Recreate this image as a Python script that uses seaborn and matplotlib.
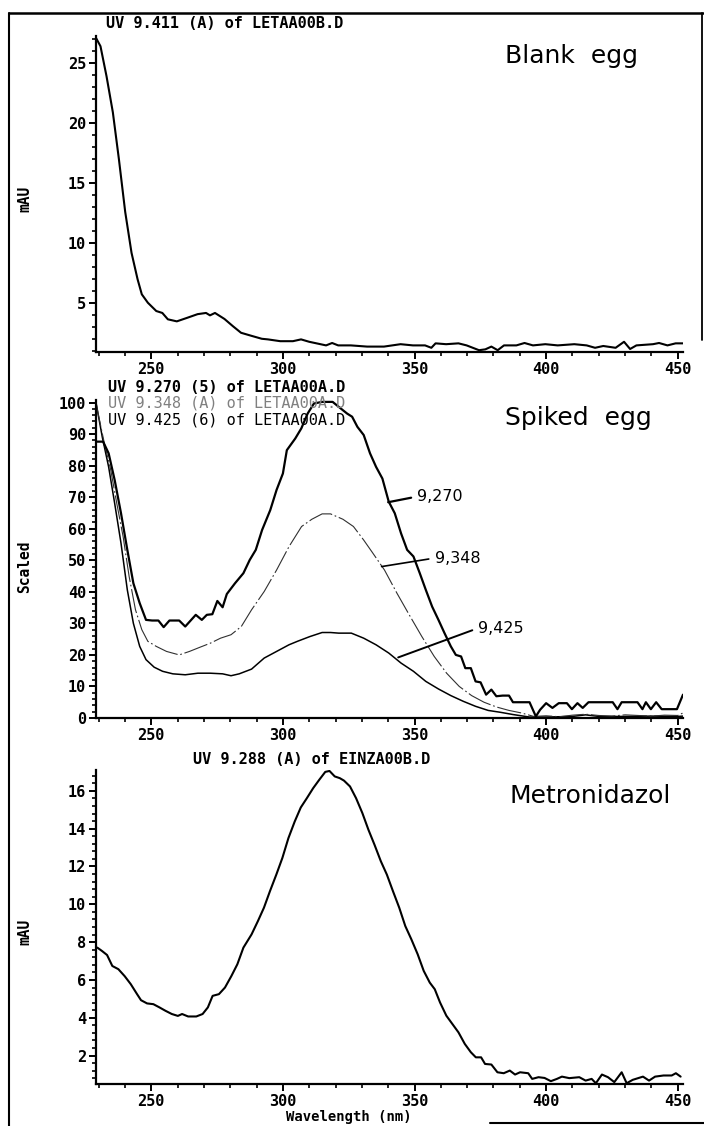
import matplotlib
matplotlib.use("Agg")
import matplotlib.pyplot as plt
from matplotlib.ticker import MultipleLocator, FormatStrFormatter
from matplotlib.lines import Line2D
import pandas as pd
import seaborn as sns

# ---------------- spectra ----------------
# Blank egg, UV 9.411 (mAU)
blank_wl = [229.1, 230.7, 233.0, 235.4, 237.7, 240.1, 242.5, 244.8, 246.4, 248.7,
            251.9, 254.2, 256.3, 259.7, 263.7, 267.6, 270.8, 272.3, 274.2, 277.8,
            281.0, 284.1, 288.0, 292.0, 294.3, 299.0, 303.8, 306.9, 310.0, 316.4,
            318.7, 321.0, 325.8, 332.0, 338.4, 344.7, 349.4, 354.0, 356.4, 358.0,
            362.0, 366.7, 369.8, 374.5, 376.9, 379.2, 381.6, 384.0, 388.7, 391.8,
            395.0, 399.7, 404.4, 410.7, 415.4, 418.6, 421.7, 426.4, 429.6, 431.9,
            434.3, 440.6, 442.9, 446.1, 449.2, 452.0]
blank_mau = [27.05, 26.4, 23.9, 20.9, 17.0, 12.6, 9.2, 7.0, 5.75, 5.05,
             4.36, 4.2, 3.67, 3.5, 3.8, 4.1, 4.2, 4.0, 4.2, 3.7,
             3.1, 2.55, 2.3, 2.05, 2.0, 1.85, 1.85, 2.0, 1.8, 1.5,
             1.7, 1.5, 1.5, 1.4, 1.4, 1.6, 1.5, 1.5, 1.3, 1.67,
             1.6, 1.67, 1.5, 1.1, 1.17, 1.4, 1.1, 1.5, 1.5, 1.7,
             1.5, 1.6, 1.5, 1.6, 1.5, 1.3, 1.45, 1.3, 1.8, 1.2,
             1.5, 1.6, 1.7, 1.5, 1.67, 1.67]

# Spiked egg, scaled spectra at 9.270, 9.348 and 9.425 min
s9270_wl = [229.0, 231.7, 233.8, 236.1, 238.5, 240.9, 243.2, 245.6, 248.0, 250.3,
            252.7, 254.7, 256.9, 260.6, 262.9, 266.9, 269.2, 271.1, 273.2, 275.1,
            277.1, 278.7, 281.8, 285.0, 287.4, 289.7, 292.1, 295.2, 297.6, 300.0,
            301.5, 304.7, 307.0, 309.4, 311.8, 314.9, 318.9, 322.0, 324.4, 326.3,
            328.3, 330.7, 333.1, 335.4, 337.8, 340.2, 342.5, 344.9, 347.2, 349.6,
            352.0, 354.3, 356.7, 359.1, 361.4, 363.8, 365.7, 367.7, 369.3, 371.4,
            373.2, 375.1, 377.2, 379.2, 381.1, 383.5, 385.9, 387.4, 393.7, 396.1,
            397.7, 400.0, 402.4, 404.8, 407.9, 409.8, 411.9, 413.9, 416.1, 425.3,
            427.1, 428.7, 434.7, 436.6, 437.9, 439.8, 441.8, 443.9, 449.7, 452.0]
s9270_val = [87.6, 87.6, 83.9, 75.4, 64.9, 53.3, 42.7, 36.4, 31.1, 30.9,
             30.9, 28.8, 30.9, 30.9, 29.0, 32.7, 31.1, 32.7, 32.9, 37.1,
             35.1, 39.3, 42.7, 45.9, 50.1, 53.3, 59.6, 65.9, 72.3, 77.5,
             84.9, 88.6, 91.8, 96.5, 99.7, 100.2, 100.2, 98.1, 96.5, 95.5,
             92.3, 89.7, 83.9, 79.6, 75.9, 68.6, 64.9, 58.5, 53.3, 51.2,
             45.9, 40.6, 35.3, 31.1, 26.9, 22.7, 20.0, 19.5, 15.8, 15.8,
             11.6, 11.3, 7.4, 9.0, 6.9, 7.1, 7.1, 5.0, 5.0, 0.5,
             2.6, 4.7, 3.2, 4.7, 4.7, 2.8, 4.7, 3.2, 5.0, 5.0,
             2.8, 5.0, 5.0, 2.8, 5.0, 2.8, 5.0, 2.8, 2.8, 7.4]

s9348_wl = [229.0, 229.8, 232.2, 234.6, 236.9, 239.3, 241.6, 244.0, 246.4, 248.7,
            251.9, 255.8, 260.6, 264.5, 268.4, 272.4, 276.3, 280.3, 284.2, 288.1,
            292.9, 297.6, 302.3, 307.1, 311.0, 314.9, 318.1, 322.8, 326.8, 330.7,
            333.8, 338.6, 343.3, 348.0, 352.8, 357.5, 362.2, 367.0, 371.7, 376.4,
            381.1, 385.9, 390.6, 395.3, 400.0, 405.0, 410.0, 415.0, 420.0, 425.0,
            430.0, 435.0, 440.0, 445.0, 450.0, 452.0]
s9348_val = [100.0, 96.5, 87.0, 78.6, 68.0, 57.5, 44.8, 34.3, 28.0, 24.3,
             22.7, 21.1, 20.0, 21.1, 22.4, 23.7, 25.3, 26.4, 29.0, 34.3,
             40.1, 46.9, 54.3, 60.7, 63.0, 64.7, 64.7, 63.0, 60.7, 56.4,
             52.7, 46.9, 39.6, 32.7, 25.8, 19.5, 14.2, 10.0, 7.1, 5.0,
             3.5, 2.4, 1.6, 0.5, 0.7, 0.4, 0.9, 1.2, 0.8, 0.6,
             1.0, 0.8, 0.6, 0.9, 0.8, 1.6]

s9425_wl = [229.0, 231.4, 233.8, 236.1, 238.5, 240.9, 243.2, 245.6, 248.0, 251.1,
            254.3, 258.2, 262.9, 267.7, 272.4, 277.1, 280.3, 283.4, 288.1, 292.9,
            297.6, 302.3, 305.5, 310.2, 314.9, 318.1, 321.2, 326.0, 330.7, 335.4,
            340.2, 344.9, 349.6, 354.3, 359.1, 363.8, 368.5, 373.2, 378.0, 382.7,
            387.4, 393.7, 400.0, 405.0, 410.0, 415.0, 420.0, 430.0, 440.0, 450.0,
            452.0]
s9425_val = [100.0, 89.0, 79.6, 68.0, 55.4, 40.6, 30.0, 22.7, 18.5, 16.1,
             14.8, 14.0, 13.7, 14.2, 14.2, 14.0, 13.4, 14.0, 15.5, 19.0,
             21.1, 23.2, 24.3, 25.8, 27.1, 27.1, 26.9, 26.9, 25.3, 23.2,
             20.6, 17.4, 14.8, 11.6, 9.2, 7.1, 5.3, 3.7, 2.4, 1.8,
             1.1, 0.3, 0.3, 0.4, 0.5, 1.0, 0.5, 0.5, 0.6, 0.5,
             0.6]

# Metronidazol standard, UV 9.288 (mAU)
metro_wl = [229.5, 231.3, 233.2, 235.2, 237.5, 239.9, 242.2, 244.6, 246.1, 248.4,
            250.8, 253.1, 255.4, 257.8, 260.1, 261.7, 264.0, 267.1, 269.5, 271.5,
            273.3, 275.7, 278.0, 280.4, 282.7, 285.0, 288.1, 290.5, 292.8, 295.1,
            297.5, 299.8, 302.1, 304.5, 306.8, 309.1, 311.5, 313.8, 316.1, 317.7,
            319.7, 321.6, 323.2, 325.5, 327.8, 330.2, 332.5, 334.8, 337.2, 339.5,
            341.8, 344.2, 346.5, 348.8, 351.2, 353.5, 355.8, 357.7, 359.7, 362.1,
            364.4, 366.7, 369.1, 371.4, 373.3, 375.3, 376.8, 379.2, 381.5, 383.9,
            386.2, 388.2, 390.1, 393.2, 394.7, 397.1, 399.4, 401.8, 404.1, 406.0,
            408.8, 412.6, 415.0, 417.3, 418.9, 421.2, 423.5, 425.9, 428.7, 430.6,
            432.9, 436.8, 439.1, 441.4, 444.6, 447.7, 449.3, 451.1]
metro_mau = [7.71, 7.53, 7.32, 6.74, 6.57, 6.20, 5.78, 5.25, 4.93, 4.76,
             4.72, 4.55, 4.37, 4.20, 4.10, 4.20, 4.07, 4.07, 4.20, 4.55,
             5.16, 5.25, 5.60, 6.20, 6.83, 7.71, 8.41, 9.11, 9.82, 10.70,
             11.57, 12.45, 13.50, 14.38, 15.12, 15.61, 16.14, 16.58, 17.00, 17.05,
             16.76, 16.67, 16.54, 16.23, 15.61, 14.82, 13.94, 13.15, 12.28, 11.57,
             10.70, 9.82, 8.85, 8.15, 7.36, 6.48, 5.86, 5.51, 4.81, 4.11,
             3.67, 3.23, 2.62, 2.18, 1.91, 1.91, 1.56, 1.53, 1.12, 1.07,
             1.21, 1.00, 1.12, 1.07, 0.77, 0.86, 0.82, 0.65, 0.77, 0.89,
             0.81, 0.86, 0.68, 0.77, 0.54, 1.00, 0.86, 0.60, 1.12, 0.54,
             0.72, 0.89, 0.68, 0.89, 0.95, 0.95, 1.07, 0.89]

x_ticks = [250, 300, 350, 400, 450]

# ---------------- figure ----------------
W, H = 704, 1126
sns.set_style("ticks")
plt.rcParams["font.family"] = ["DejaVu Sans Mono", "DejaVu Sans"]
plt.rcParams["font.weight"] = "bold"
plt.rcParams["axes.labelweight"] = "bold"
plt.rcParams["text.color"] = "black"
plt.rcParams["axes.labelcolor"] = "black"
plt.rcParams["xtick.color"] = "black"
plt.rcParams["ytick.color"] = "black"

fig = plt.figure(figsize=(W / 100, H / 100), dpi=100, facecolor="white")
LIGHT = dict(family="DejaVu Sans", weight="normal")


def box(top, bottom, left=96, right=683):
    return [left / W, 1 - bottom / H, (right - left) / W, (bottom - top) / H]


def px(x, y):
    return x / W, 1 - y / H


def style(ax, ylim, ymajor, yminor):
    ax.set_xlim(229, 452)
    ax.set_ylim(*ylim)
    ax.xaxis.set_major_locator(MultipleLocator(50))
    ax.xaxis.set_minor_locator(MultipleLocator(10))
    ax.yaxis.set_major_locator(MultipleLocator(ymajor))
    ax.yaxis.set_minor_locator(MultipleLocator(yminor))
    ax.xaxis.set_major_formatter(FormatStrFormatter("%d"))
    ax.yaxis.set_major_formatter(FormatStrFormatter("%d"))
    for s in ("top", "right"):
        ax.spines[s].set_visible(False)
    for s in ("left", "bottom"):
        ax.spines[s].set_linewidth(1.6)
        ax.spines[s].set_color("black")
    ax.tick_params(which="major", length=5, width=1.4, direction="out",
                   pad=2, labelsize=11, colors="black")
    ax.tick_params(which="minor", length=3, width=1.2, direction="out",
                   colors="black")
    ax.set_xlabel("")
    ax.set_ylabel("")
    ax.grid(False)
    ax.set_facecolor("white")


ax_top = fig.add_axes(box(36, 352))
ax_mid = fig.add_axes(box(400, 718))
ax_bot = fig.add_axes(box(770, 1084))

# --- Blank egg ---
df_blank = pd.DataFrame({"Wavelength": blank_wl, "mAU": blank_mau})
sns.lineplot(data=df_blank, x="Wavelength", y="mAU", ax=ax_top, color="black",
             linewidth=1.5, estimator=None, sort=False)
style(ax_top, (0.95, 27.25), 5, 1)

# --- Spiked egg ---
df_270 = pd.DataFrame({"Wavelength": s9270_wl, "Scaled": s9270_val})
df_348 = pd.DataFrame({"Wavelength": s9348_wl, "Scaled": s9348_val})
df_425 = pd.DataFrame({"Wavelength": s9425_wl, "Scaled": s9425_val})
sns.lineplot(data=df_425, x="Wavelength", y="Scaled", ax=ax_mid, color="black",
             linewidth=1.1, estimator=None, sort=False)
sns.lineplot(data=df_348, x="Wavelength", y="Scaled", ax=ax_mid, color="#303030",
             linewidth=0.8, estimator=None, sort=False)
ax_mid.lines[-1].set_dashes([22, 2.5, 1.5, 2.5])
sns.lineplot(data=df_270, x="Wavelength", y="Scaled", ax=ax_mid, color="black",
             linewidth=1.6, estimator=None, sort=False)
style(ax_mid, (0, 100.8), 10, 2)

for txt, xy, xyt, lw in [("9,270", (340.0, 68.4), (351.0, 70.2), 1.6),
                         ("9,348", (337.5, 48.0), (357.7, 50.7), 1.2),
                         ("9,425", (343.8, 19.2), (374.2, 28.5), 1.4)]:
    ax_mid.annotate(txt, xy=xy, xytext=xyt, textcoords="data", ha="left",
                    va="center", fontsize=11.5, color="black", **LIGHT,
                    arrowprops=dict(arrowstyle="-", lw=lw, color="black",
                                    shrinkA=2, shrinkB=0, relpos=(0, 0.5)))

# --- Metronidazol ---
df_metro = pd.DataFrame({"Wavelength": metro_wl, "mAU": metro_mau})
sns.lineplot(data=df_metro, x="Wavelength", y="mAU", ax=ax_bot, color="black",
             linewidth=1.5, estimator=None, sort=False)
style(ax_bot, (0.5, 17.1), 2, 0.4)

for ax in (ax_top, ax_mid, ax_bot):
    ax.set_xticks(x_ticks)

# axis titles
ax_top.set_ylabel("mAU", fontsize=10.5, va="center")
ax_top.yaxis.set_label_coords(-0.121, 0.484)
ax_mid.set_ylabel("Scaled", fontsize=10.5, va="center")
ax_mid.yaxis.set_label_coords(-0.121, 0.475)
ax_bot.set_ylabel("mAU", fontsize=10.5, va="center")
ax_bot.yaxis.set_label_coords(-0.121, 0.486)
ax_bot.set_xlabel("Wavelength (nm)", fontsize=10, va="center")
ax_bot.xaxis.set_label_coords(0.431, -0.106)

# spectrum headers
HDR = 11
fig.text(*px(106, 24), "UV 9.411 (A) of LETAA00B.D", fontsize=HDR,
         va="center", ha="left")
fig.text(*px(108, 387), "UV 9.270 (5) of LETAA00A.D", fontsize=HDR,
         va="center", ha="left")
fig.text(*px(108, 403), "UV 9.348 (A) of LETAA00A.D", fontsize=HDR,
         va="center", ha="left", weight="normal", color="#808080")
fig.text(*px(108, 420), "UV 9.425 (6) of LETAA00A.D", fontsize=HDR,
         va="center", ha="left", weight="normal")
fig.text(*px(193, 760), "UV 9.288 (A) of EINZA00B.D", fontsize=HDR,
         va="center", ha="left")

# sample names
fig.text(*px(505, 63), "Blank  egg", fontsize=18, va="baseline", ha="left", **LIGHT)
fig.text(*px(505, 425), "Spiked  egg", fontsize=18, va="baseline", ha="left", **LIGHT)
fig.text(*px(510, 803), "Metronidazol", fontsize=18, va="baseline", ha="left", **LIGHT)

# page frame
for xs, ys, lw in [((9, 704), (13, 13), 1.8),
                   ((9, 9), (13, 1126), 1.5),
                   ((702, 702), (13, 340), 1.3),
                   ((490, 704), (1123, 1123), 1.5)]:
    fig.add_artist(Line2D([x / W for x in xs], [1 - y / H for y in ys],
                          transform=fig.transFigure, color="black", lw=lw))

fig.savefig("out.png", dpi=100, facecolor="white")
